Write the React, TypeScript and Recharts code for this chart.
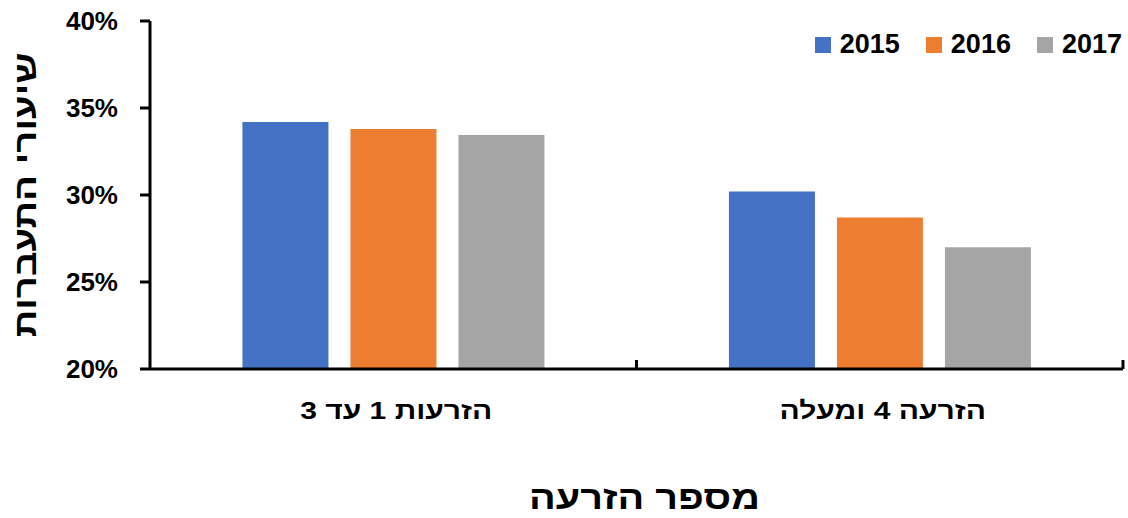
import { BarChart, Bar, XAxis, YAxis, Legend, Label } from "recharts";

const categories = ["הזרעות 1 עד 3", "הזרעה 4 ומעלה"];
const years = ["2015", "2016", "2017"];
const rate2015 = [34.2, 30.2];
const rate2016 = [33.8, 28.7];
const rate2017 = [33.45, 27.0];
const yTicks = [20, 25, 30, 35, 40];
const colors = ["#4472C4", "#ED7D31", "#A5A5A5"];

const FONT = "'Liberation Sans', Arial, 'DejaVu Sans', sans-serif";

const data = categories.map((name, i) => ({
  name,
  "2015": rate2015[i],
  "2016": rate2016[i],
  "2017": rate2017[i],
}));

function CategoryTick(props: any) {
  const { x, y, payload, index, visibleTicksCount } = props;
  const half = payload?.offset ?? 0;
  const last = index === visibleTicksCount - 1;
  return (
    <g>
      {index > 0 && (
        <line x1={x - half} x2={x - half} y1={y} y2={y - 9} stroke="#000" strokeWidth={3} />
      )}
      {last && (
        <line x1={x + half} x2={x + half} y1={y} y2={y - 9} stroke="#000" strokeWidth={3} />
      )}
      <text
        transform={`translate(${x + 3} ${y + 50}) scale(1.25 1)`}
        textAnchor="middle"
        fontFamily={FONT}
        fontWeight="bold"
        fontSize={24}
        fill="#000"
      >
        {payload.value}
      </text>
    </g>
  );
}

function LegendBox(props: any) {
  const items = props.payload || [];
  return (
    <div style={{ display: "flex", alignItems: "center", fontFamily: FONT }}>
      {items.map((it: any, i: number) => (
        <div
          key={it.value}
          style={{ display: "flex", alignItems: "center", marginLeft: i === 0 ? 0 : 26 }}
        >
          <span style={{ width: 16, height: 16, background: it.color, marginRight: 9 }} />
          <span style={{ fontSize: 27, fontWeight: "bold", color: "#000", lineHeight: 1 }}>
            {it.value}
          </span>
        </div>
      ))}
    </div>
  );
}

export default function App() {
  return (
    <div style={{ position: "absolute", left: 0, top: 0 }}>
      <BarChart
        width={1128}
        height={518}
        data={data}
        margin={{ top: 21, right: 5, left: 0, bottom: 0 }}
        barCategoryGap="19%"
        barGap={22}
      >
        <XAxis
          dataKey="name"
          height={149}
          axisLine={{ stroke: "#000", strokeWidth: 3 }}
          tickLine={false}
          tickSize={0}
          tickMargin={0}
          tick={<CategoryTick />}
          interval={0}
        >
          <Label
            content={(p: any) => {
              const vb = p.viewBox;
              const cx = vb.x + vb.width / 2 + 8;
              const cy = vb.y + 140;
              return (
                <text
                  transform={`translate(${cx} ${cy}) scale(1.2 1)`}
                  textAnchor="middle"
                  fontFamily={FONT}
                  fontWeight="bold"
                  fontSize={33}
                  fill="#000"
                >
                  מספר הזרעה
                </text>
              );
            }}
          />
        </XAxis>
        <YAxis
          width={150}
          domain={[20, 40]}
          ticks={yTicks}
          allowDataOverflow
          axisLine={{ stroke: "#000", strokeWidth: 3 }}
          tickLine={{ stroke: "#000", strokeWidth: 3 }}
          tickSize={10}
          tickMargin={22}
          tickFormatter={(v: number) => `${v}%`}
          tick={{ fill: "#000", fontFamily: FONT, fontWeight: "bold", fontSize: 26 }}
        >
          <Label
            content={(p: any) => {
              const vb = p.viewBox;
              const cx = 36;
              const cy = vb.y + vb.height / 2;
              return (
                <text
                  transform={`translate(${cx} ${cy}) rotate(-90) scale(1.24 1)`}
                  textAnchor="middle"
                  fontFamily={FONT}
                  fontWeight="bold"
                  fontSize={31}
                  fill="#000"
                >
                  שיעורי התעברות
                </text>
              );
            }}
          />
        </YAxis>
        <Legend
          layout="horizontal"
          verticalAlign="middle"
          align="center"
          wrapperStyle={{ top: 31, right: 6, width: "auto" }}
          content={<LegendBox />}
        />
        {years.map((y, i) => (
          <Bar key={y} dataKey={y} fill={colors[i]} isAnimationActive={false} />
        ))}
      </BarChart>
    </div>
  );
}
